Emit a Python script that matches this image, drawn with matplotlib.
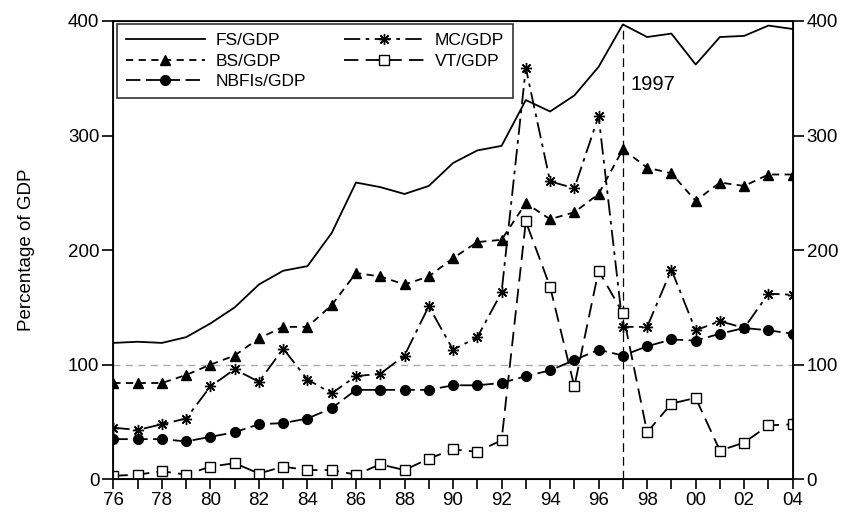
import matplotlib
matplotlib.use("Agg")
import matplotlib.pyplot as plt
from matplotlib.ticker import MultipleLocator, FuncFormatter

plt.rcParams['font.family'] = ['Liberation Sans', 'DejaVu Sans']

years = list(range(1976, 2005))

fs_gdp = [119, 120, 119, 124, 136, 150, 170, 182, 186, 215, 259, 255, 249, 256, 276,
          287, 291, 331, 321, 335, 360, 397, 386, 389, 362, 386, 387, 396, 393]
bs_gdp = [84, 84, 84, 91, 100, 108, 123, 133, 133, 152, 180, 177, 170, 177, 193,
          207, 209, 241, 227, 233, 249, 288, 272, 267, 243, 259, 256, 266, 266]
mc_gdp = [45, 43, 48, 53, 81, 96, 85, 114, 87, 75, 90, 92, 108, 151, 113,
          124, 163, 359, 260, 254, 317, 133, 133, 183, 130, 138, 132, 162, 161]
nbfi_gdp = [35, 35, 35, 33, 37, 41, 48, 49, 53, 62, 78, 78, 78, 78, 82,
            82, 84, 90, 95, 104, 113, 108, 116, 122, 121, 127, 132, 130, 127]
vt_gdp = [3, 4, 7, 4, 11, 14, 5, 11, 8, 8, 4, 13, 8, 18, 26,
          24, 34, 225, 168, 81, 182, 145, 41, 66, 71, 25, 32, 47, 48]

fig = plt.figure(figsize=(8.46, 5.12), dpi=100)
ax = fig.add_axes([0.134, 0.064, 0.803, 0.895])

ax.axhline(100, color='#aaaaaa', lw=1.0, ls=(0, (5, 4)), zorder=1)
ax.plot([1997, 1997], [0, 397], color='black', lw=0.9, ls=(0, (7, 4)), zorder=1)
ax.text(1997.3, 340, '1997', fontsize=14.5)

ax.plot(years, fs_gdp, color='black', lw=1.3, label='FS/GDP')
ax.plot(years, bs_gdp, color='black', lw=1.3, ls=(0, (4, 3)), marker='^', ms=7, label='BS/GDP')
ax.plot(years, nbfi_gdp, color='black', lw=1.3, ls=(0, (8, 3)), marker='o', ms=7, label='NBFIs/GDP')
ax.plot(years, mc_gdp, color='black', lw=1.3, ls=(0, (9, 3, 2, 3)), marker=(8, 2, 0), ms=8, label='MC/GDP')
ax.plot(years, vt_gdp, color='black', lw=1.3, ls=(0, (8, 4)), marker='s', ms=6.5,
        markerfacecolor='white', label='VT/GDP')

ax.set_xlim(1976, 2004)
ax.set_ylim(0, 400)
ax.xaxis.set_major_locator(MultipleLocator(2))
ax.xaxis.set_minor_locator(MultipleLocator(1))
ax.xaxis.set_major_formatter(FuncFormatter(lambda v, p: '%02d' % (int(round(v)) % 100)))
ax.yaxis.set_major_locator(MultipleLocator(100))
ax.tick_params(axis='both', which='both', direction='out', labelsize=13.5, width=1.2, pad=2)
ax.tick_params(axis='x', which='both', length=7)
ax.tick_params(axis='y', length=8)
for s in ax.spines.values():
    s.set_linewidth(1.3)

ax2 = ax.twinx()
ax2.set_ylim(0, 400)
ax2.yaxis.set_major_locator(MultipleLocator(100))
ax2.tick_params(axis='y', direction='out', labelsize=13.5, length=8, width=1.2, pad=2)

ax.set_ylabel('Percentage of GDP', fontsize=13.5, labelpad=24)

leg = ax.legend(loc='upper left', ncol=2, fontsize=12.5, numpoints=1, handlelength=4.6,
                frameon=True, fancybox=False, edgecolor='black', borderaxespad=0.2,
                labelspacing=0.3, columnspacing=2.2, handletextpad=0.6,
                borderpad=0.5)
leg.get_frame().set_linewidth(1.2)

fig.savefig('out.png', dpi=100)
